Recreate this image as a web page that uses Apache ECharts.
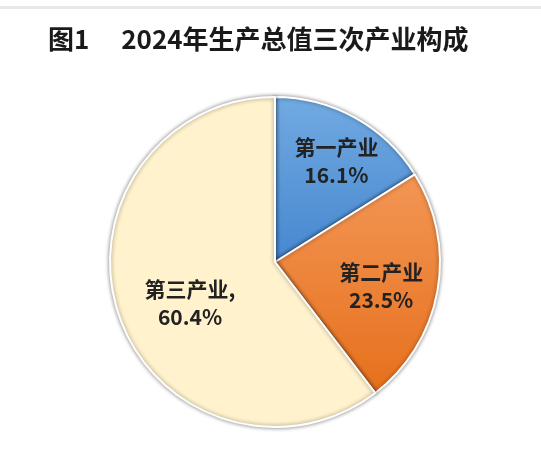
<!DOCTYPE html>
<html>
<head>
<meta charset="utf-8">
<script src="https://cdn.jsdelivr.net/npm/echarts@6/dist/echarts.min.js"></script>
<style>
  html, body { margin: 0; padding: 0; background: #fff; }
  #main { width: 541px; height: 449px; }
</style>
</head>
<body>
<div id="main"></div>
<script>
// 2024年生产总值三次产业构成
const industries = ['第一产业', '第二产业', '第三产业'];
const shares = [16.1, 23.5, 60.4];

const chart = echarts.init(document.getElementById('main'));

const sliceColors = [
  new echarts.graphic.LinearGradient(0, 0, 0, 1, [
    { offset: 0, color: '#72aae2' },
    { offset: 1, color: '#4687cf' }
  ]),
  new echarts.graphic.LinearGradient(0, 0, 0, 1, [
    { offset: 0, color: '#f39655' },
    { offset: 1, color: '#e6701c' }
  ]),
  '#fff2cd'
];
// nudge labels toward the rim like the original
const labelShift = [[20, -26], [22, 9], [-4, 14]];

chart.setOption({
  animation: false,
  graphic: [{
    type: 'rect',
    shape: { x: 0, y: 6, width: 541, height: 3 },
    style: { fill: '#e8e8e8' }
  }],
  title: {
    text: '图1\u3000 2024年生产总值三次产业构成',
    left: 43,
    top: 21,
    textStyle: {
      fontFamily: 'Noto Sans CJK SC',
      fontSize: 26,
      fontWeight: 'bold',
      color: '#1a1a1a'
    }
  },
  series: [{
    type: 'pie',
    center: [275, 262],
    radius: [0, 165],
    startAngle: 90,
    clockwise: true,
    label: {
      position: 'inside',
      fontFamily: 'Noto Sans CJK SC',
      fontSize: 21,
      fontWeight: 'bold',
      color: '#222',
      lineHeight: 28,
      formatter: p => p.name + (p.dataIndex === 2 ? ',' : '') + '\n' + p.value + '%'
    },
    labelLayout: p => ({ dx: labelShift[p.dataIndex][0], dy: labelShift[p.dataIndex][1] }),
    itemStyle: {
      borderColor: '#fff',
      borderWidth: 2,
      shadowBlur: 4,
      shadowColor: 'rgba(0,0,0,0.45)'
    },
    emphasis: { disabled: true },
    data: industries.map((name, i) => ({
      name: name,
      value: shares[i],
      itemStyle: { color: sliceColors[i] }
    }))
  }]
});
</script>
</body>
</html>
